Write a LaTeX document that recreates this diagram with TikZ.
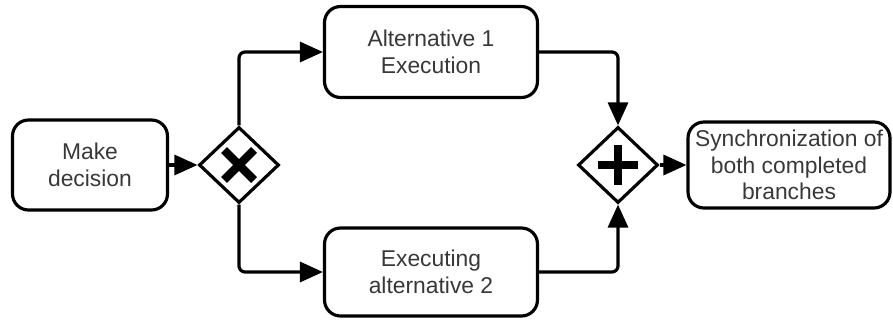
\documentclass[tikz,border=0pt]{standalone}
\usepackage{fontspec}
\setmainfont{Liberation Sans}
\usetikzlibrary{arrows.meta,shapes.geometric,calc}

\begin{document}
\begin{tikzpicture}[x=0.02cm, y=-0.02cm, line width=1.8pt,
    task/.style={draw, rounded corners=0.32cm, align=center, inner sep=0pt,
      font=\fontsize{13}{15}\selectfont, text=black!78},
    gateway/.style={draw, diamond, inner sep=0pt, minimum width=1.6cm, minimum height=1.52cm},
    flow/.style={-{Triangle[length=0.46cm, width=0.4cm]}, rounded corners=0.12cm},
    gatemark/.style={line width=4.8pt}]
  \useasboundingbox (0,0) rectangle (893,321);

  % tasks
  \node[task, minimum width=3.1cm, minimum height=1.8cm] (decide) at (90,165) {Make\\decision};
  \node[task, minimum width=4.26cm, minimum height=1.82cm] (alt1) at (431,52) {Alternative 1\\Execution};
  \node[task, minimum width=4.26cm, minimum height=1.76cm] (alt2) at (431,272) {Executing\\alternative 2};
  \node[task, minimum width=4.04cm, minimum height=1.72cm] (sync) at (789,165) {Synchronization of\\both completed\\branches};

  % gateways
  \node[gateway] (xor) at (239,165) {};
  \node[gateway] (and) at (618,165) {};
  \draw[gatemark] ($(xor)+(-15,-15)$) -- ($(xor)+(15,15)$);
  \draw[gatemark] ($(xor)+(-15,15)$) -- ($(xor)+(15,-15)$);
  \draw[gatemark] ($(and)+(-20,0)$) -- ($(and)+(20,0)$);
  \draw[gatemark] ($(and)+(0,-20)$) -- ($(and)+(0,20)$);

  % sequence flows
  \draw[flow] (decide) -- (xor);
  \draw[flow] (xor.north) |- (alt1.west);
  \draw[flow] (xor.south) |- (alt2.west);
  \draw[flow] (alt1.east) -| (and.north);
  \draw[flow] (alt2.east) -| (and.south);
  \draw[flow] (and) -- (sync);
\end{tikzpicture}
\end{document}
